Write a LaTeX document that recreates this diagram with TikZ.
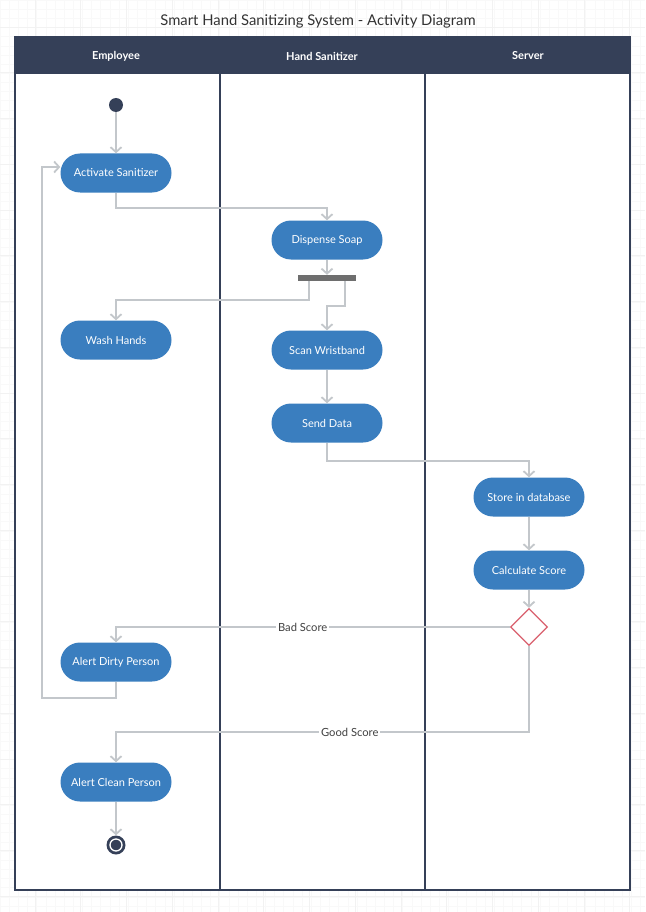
\documentclass[tikz,border=0pt]{standalone}
\usepackage{fontspec}
\setmainfont{Lato}
\usepackage{tikz}
\usetikzlibrary{arrows.meta,shapes.geometric}
\usepackage{xcolor}
\definecolor{laneblue}{RGB}{53,64,88}
\definecolor{actblue}{RGB}{58,126,191}
\definecolor{flowgray}{RGB}{195,199,203}
\definecolor{decred}{RGB}{217,96,110}
\definecolor{bargray}{RGB}{110,110,110}

\begin{document}
\begin{tikzpicture}[x=1pt,y=-1pt,>={Straight Barb[length=5pt,width=11pt]}]
\tikzset{
    act/.style={%
        fill=actblue,
        rectangle,
        rounded corners=19.5pt,
        minimum height=39pt,
        minimum width=111pt,
        text=white,
        font=\fontsize{11}{13}\selectfont
        },
    flow/.style={%
        ->, draw=flowgray, line width=1.8pt
        },
    lbl/.style={%
        fill=white, inner sep=2pt,
        text=black!75,
        font=\fontsize{11.2}{13}\selectfont
        },
    lane/.style={%
        text=white,
        font=\bfseries\fontsize{11}{13}\selectfont
        },
}
\useasboundingbox (0,0) rectangle (645,912);
%%%BACKGROUND GRID
\foreach \g in {0,9.15,...,645} \draw[black!2.5, line width=0.4pt] (\g,0) -- (\g,912);
\foreach \g in {0,9.15,...,912} \draw[black!2.5, line width=0.4pt] (0,\g) -- (645,\g);
\foreach \g in {35,80.75,...,645} \draw[black!5, line width=0.6pt] (\g,0) -- (\g,912);
\foreach \g in {27,72.75,...,912} \draw[black!5, line width=0.6pt] (0,\g) -- (645,\g);
%%%TITLE
\node[text=black!80, font=\fontsize{14.8}{17}\selectfont] (title) at (318,21) {Smart Hand Sanitizing System - Activity Diagram};
%%%SWIMLANES
\fill[white] (15,37) rectangle (630,890);
\fill[laneblue] (15,37) rectangle (630,74);
\draw[laneblue, line width=1.6pt] (15,37) rectangle (630,890);
\draw[laneblue, line width=1.6pt] (220,74) -- (220,890);
\draw[laneblue, line width=1.6pt] (425,74) -- (425,890);
\node[lane] (emp) at (116,56) {Employee};
\node[lane] (san) at (322,56) {Hand Sanitizer};
\node[lane] (srv) at (528,56) {Server};
%%%ACTIVITIES
\node[circle, fill=laneblue, minimum size=14pt, inner sep=0pt] (start) at (116,105) {};
\node[act] (act) at (116,173) {Activate Sanitizer};
\node[act] (disp) at (327,240) {Dispense Soap};
\node[fill=bargray, minimum width=58pt, minimum height=6pt, inner sep=0pt] (bar) at (327,278) {};
\node[act] (wash) at (116,340) {Wash Hands};
\node[act] (scan) at (327,350) {Scan Wristband};
\node[act] (send) at (327,423) {Send Data};
\node[act] (store) at (529,497) {Store in database};
\node[act] (calc) at (529,570) {Calculate Score};
\node[diamond, draw=decred, fill=white, line width=1.3pt, minimum size=37pt, inner sep=0pt] (dec) at (529,627) {};
\node[act] (dirty) at (116,662) {Alert Dirty Person};
\node[act] (clean) at (116,782) {Alert Clean Person};
\node[circle, fill=laneblue, minimum size=19pt, inner sep=0pt] (stop) at (116,845) {};
\draw[white, line width=1.3pt] (stop.center) circle (6);
%%%FLOWS
\draw[flow] (start) -- (act);
\draw[flow] (act.south) -- ++(0,15) -| (disp.north);
\draw[flow] (disp) -- (bar);
\draw[flow] ([xshift=-18pt]bar.south) -- ++(0,19) -| (wash.north);
\draw[flow] ([xshift=18pt]bar.south) -- ++(0,25) -| (scan.north);
\draw[flow] (scan) -- (send);
\draw[flow] (send.south) -- ++(0,18) -| (store.north);
\draw[flow] (store) -- (calc);
\draw[flow] (calc) -- (dec);
\draw[flow] (dec.west) -| node[lbl, pos=0.263] {Bad Score} (dirty.north);
\draw[flow] (dec.south) -- ++(0,86) -| node[lbl, pos=0.217] {Good Score} (clean.north);
\draw[flow] (dirty.south) -- ++(0,16) -| ([xshift=-18pt,yshift=6pt]act.west) -- ([yshift=6pt]act.west);
\draw[flow] (clean) -- (stop);
\end{tikzpicture}
\end{document}
